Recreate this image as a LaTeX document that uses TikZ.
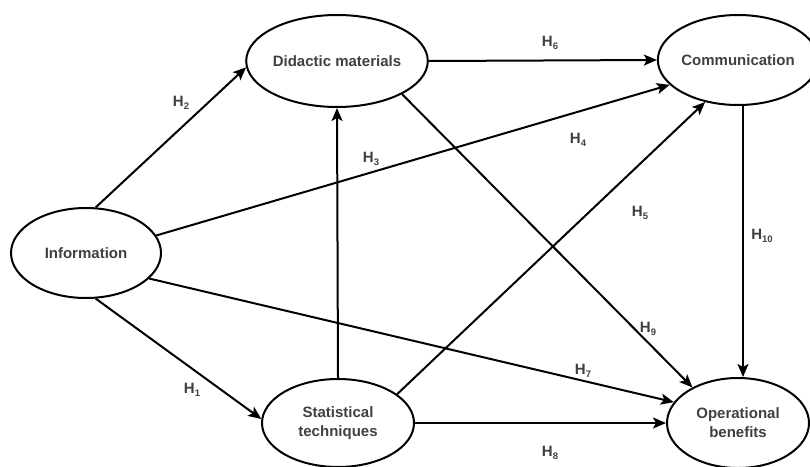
\documentclass[tikz,border=0pt]{standalone}
\usepackage{fontspec}
\setmainfont{Liberation Sans}
\usetikzlibrary{shapes.geometric,arrows.meta}
\definecolor{txt}{RGB}{64,64,64}
\tikzset{
  construct/.style={ellipse,draw=black,line width=2pt,inner sep=0pt,align=center,
    text=txt,font=\fontsize{15}{19}\selectfont\bfseries},
  hyp/.style={text=txt,font=\fontsize{15}{17}\selectfont\bfseries,inner sep=0pt},
  path/.style={line width=2pt,-{Stealth[length=13pt,width=11pt,inset=3pt]}}
}
\newcommand{\hlab}[1]{H\raisebox{-0.3ex}{\fontsize{9.5}{10}\selectfont #1}}
\begin{document}
\begin{tikzpicture}[x=1pt,y=-1pt]
\useasboundingbox (0,0) rectangle (810,466);
\node[construct,minimum width=150pt,minimum height=90pt] (info) at (86,253) {Information};
\node[construct,minimum width=150pt,minimum height=92pt] (did) at (337,61) {Didactic materials};
\node[construct,minimum width=142pt,minimum height=90pt] (com) at (738,60) {Communication};
\node[construct,minimum width=152pt,minimum height=88pt] (stat) at (338,423) {Statistical\\techniques};
\node[construct,minimum width=142pt,minimum height=90pt] (op) at (738,423) {Operational\\benefits};

\draw[path] (info.78) -- (did.184);
\draw[path] (info.-78) -- (stat.177);
\draw[path] (info.14) -- (com.200);
\draw[path] (info.-22) -- (op.162);
\draw[path] (did.east) -- (com.west);
\draw[path] (did.-27) -- (op.142);
\draw[path] (stat.north) -- (did.south);
\draw[path] (stat.26) -- (com.232);
\draw[path] (stat.east) -- (op.west);
\draw[path] ([xshift=5pt]com.south) -- ([xshift=5pt]op.north);

\node[hyp] (h2) at (181,103) {\hlab{2}};
\node[hyp] (h6) at (550,43) {\hlab{6}};
\node[hyp] (h3) at (371,159) {\hlab{3}};
\node[hyp] (h4) at (578,140) {\hlab{4}};
\node[hyp] (h5) at (640,213) {\hlab{5}};
\node[hyp] (h10) at (762,236) {\hlab{10}};
\node[hyp] (h9) at (648,329) {\hlab{9}};
\node[hyp] (h7) at (583,371) {\hlab{7}};
\node[hyp] (h1) at (192,390) {\hlab{1}};
\node[hyp] (h8) at (550,453) {\hlab{8}};
\end{tikzpicture}
\end{document}
